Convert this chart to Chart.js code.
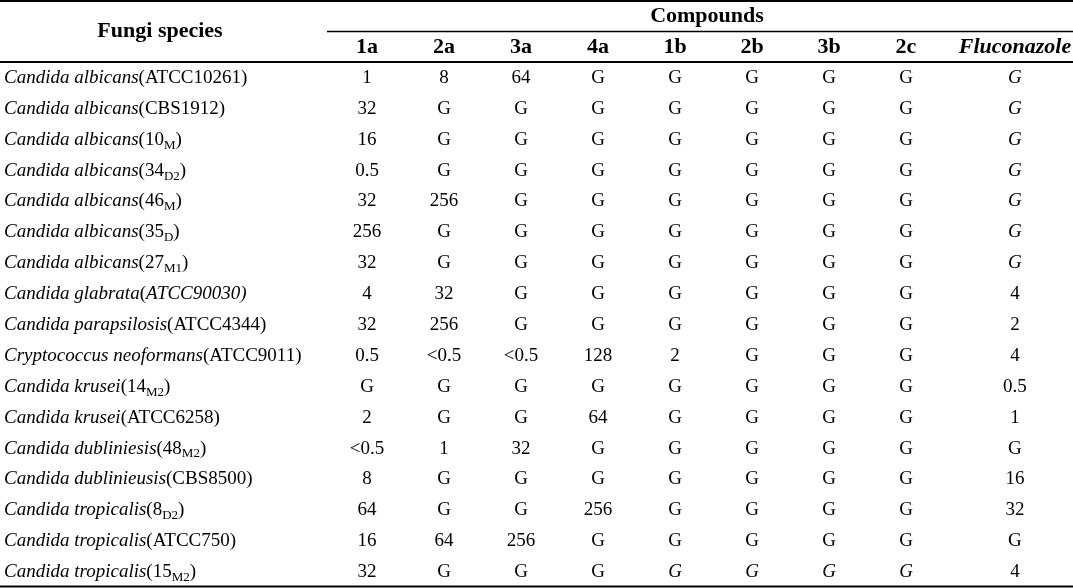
<!DOCTYPE html>
<html><head><meta charset="utf-8">
<script src="https://cdn.jsdelivr.net/npm/chart.js@4/dist/chart.umd.min.js"></script>
<style>html,body{margin:0;padding:0;background:#fff}#wrap{width:1073px;height:588px;position:relative}</style>
</head><body><div id="wrap"><canvas id="c"></canvas></div>
<script>
const columns = ['1a','2a','3a','4a','1b','2b','3b','2c','Fluconazole'];
const speciesNames = ['Candida albicans','Candida albicans','Candida albicans','Candida albicans','Candida albicans','Candida albicans','Candida albicans','Candida glabrata','Candida parapsilosis','Cryptococcus neoformans','Candida krusei','Candida krusei','Candida dubliniesis','Candida dublinieusis','Candida tropicalis','Candida tropicalis','Candida tropicalis'];
const strainMain = ['ATCC10261','CBS1912','10','34','46','35','27','ATCC90030','ATCC4344','ATCC9011','14','ATCC6258','48','CBS8500','8','ATCC750','15'];
const strainSub = ['','','M','D2','M','D','M1','','','','M2','','M2','','D2','','M2'];
const v1a = ['1','32','16','0.5','32','256','32','4','32','0.5','G','2','<0.5','8','64','16','32'];
const v2a = ['8','G','G','G','256','G','G','32','256','<0.5','G','G','1','G','G','64','G'];
const v3a = ['64','G','G','G','G','G','G','G','G','<0.5','G','G','32','G','G','256','G'];
const v4a = ['G','G','G','G','G','G','G','G','G','128','G','64','G','G','256','G','G'];
const v1b = ['G','G','G','G','G','G','G','G','G','2','G','G','G','G','G','G','G'];
const v2b = ['G','G','G','G','G','G','G','G','G','G','G','G','G','G','G','G','G'];
const v3b = ['G','G','G','G','G','G','G','G','G','G','G','G','G','G','G','G','G'];
const v2c = ['G','G','G','G','G','G','G','G','G','G','G','G','G','G','G','G','G'];
const vFlu = ['G','G','G','G','G','G','G','4','2','4','0.5','1','G','16','32','G','4'];
const headerTitle = 'Fungi species';
const groupTitle = 'Compounds';

const columnValues = [v1a,v2a,v3a,v4a,v1b,v2b,v3b,v2c,vFlu];
const rowLabels = speciesNames.map((n,i)=>n+'('+strainMain[i]+strainSub[i]+')');
const italicCells = new Set();
for(let r=0;r<7;r++) italicCells.add('8,'+r);
[4,5,6,7].forEach(c=>italicCells.add(c+',16'));
const italicStrain = new Set([7]);

const FONT = '"Liberation Serif", "Times New Roman", serif';
const CELL = 19, HEAD = 22, SUB = 13;

const datasets = columns.map((col,ci)=>({
  label: col,
  data: columnValues[ci].map((v,ri)=>({x: col, y: rowLabels[ri]})),
  cellText: columnValues[ci],
  pointRadius: 0, pointHoverRadius: 0, showLine: false
}));

const tablePlugin = {
  id: 'tableText',
  afterDatasetsDraw(chart){
    const ctx = chart.ctx, ca = chart.chartArea;
    const xs = chart.scales.x, ys = chart.scales.y;
    const step = xs.getPixelForValue(1) - xs.getPixelForValue(0);
    const lastShift = step*0.415;
    const W = chart.width;
    ctx.save();
    ctx.fillStyle = '#000'; ctx.strokeStyle = '#000';
    ctx.lineWidth = 1.8;
    ctx.beginPath(); ctx.moveTo(0,1); ctx.lineTo(W,1); ctx.stroke();
    ctx.beginPath(); ctx.moveTo(0,ca.top-0.5); ctx.lineTo(W,ca.top-0.5); ctx.stroke();
    ctx.beginPath(); ctx.moveTo(0,ca.bottom-1); ctx.lineTo(W,ca.bottom-1); ctx.stroke();
    ctx.lineWidth = 1.3;
    ctx.beginPath(); ctx.moveTo(ca.left-1.5,31.5); ctx.lineTo(W,31.5); ctx.stroke();
    ctx.textBaseline = 'middle'; ctx.textAlign = 'center';
    ctx.font = 'bold '+HEAD+'px '+FONT;
    ctx.fillText(headerTitle, 160, 31);
    ctx.fillText(groupTitle, 707, 16);
    columns.forEach((c,ci)=>{
      let x = xs.getPixelForValue(ci);
      if(ci===columns.length-1){ x += lastShift; ctx.font = 'italic bold '+HEAD+'px '+FONT; }
      else ctx.font = 'bold '+HEAD+'px '+FONT;
      ctx.fillText(c, x, 47);
    });
    chart.data.datasets.forEach((ds,ci)=>{
      const meta = chart.getDatasetMeta(ci);
      meta.data.forEach((el,ri)=>{
        const it = italicCells.has(ci+','+ri);
        ctx.font = (it?'italic ':'')+CELL+'px '+FONT;
        let x = el.x + (ci===columns.length-1 ? lastShift : 0);
        ctx.textAlign = 'center';
        ctx.fillText(ds.cellText[ri], x, el.y);
      });
    });
    ctx.textAlign = 'left';
    rowLabels.forEach((lab,ri)=>{
      const y = ys.getPixelForValue(ri);
      let x = 4;
      ctx.font = 'italic '+CELL+'px '+FONT;
      ctx.fillText(speciesNames[ri], x, y); x += ctx.measureText(speciesNames[ri]).width;
      const sf = (italicStrain.has(ri)?'italic ':'')+CELL+'px '+FONT;
      ctx.font = CELL+'px '+FONT;
      ctx.fillText('(', x, y); x += ctx.measureText('(').width;
      ctx.font = sf;
      ctx.fillText(strainMain[ri], x, y); x += ctx.measureText(strainMain[ri]).width;
      if(strainSub[ri]){
        ctx.font = SUB+'px '+FONT;
        ctx.fillText(strainSub[ri], x, y+5.5); x += ctx.measureText(strainSub[ri]).width;
      }
      ctx.font = sf;
      ctx.fillText(')', x, y);
    });
    ctx.restore();
  }
};

new Chart(document.getElementById('c'), {
  type: 'scatter',
  data: { datasets },
  options: {
    responsive: true, maintainAspectRatio: false, animation: false,
    layout: { padding: { left: 328.5, right: 51.5, top: 62.5, bottom: 0.5 } },
    plugins: { legend: {display:false}, tooltip: {enabled:false} },
    scales: {
      x: { type:'category', labels: columns, offset: true, display: false },
      y: { type:'category', labels: rowLabels, offset: true, display: false }
    }
  },
  plugins: [tablePlugin]
});
</script></body></html>
